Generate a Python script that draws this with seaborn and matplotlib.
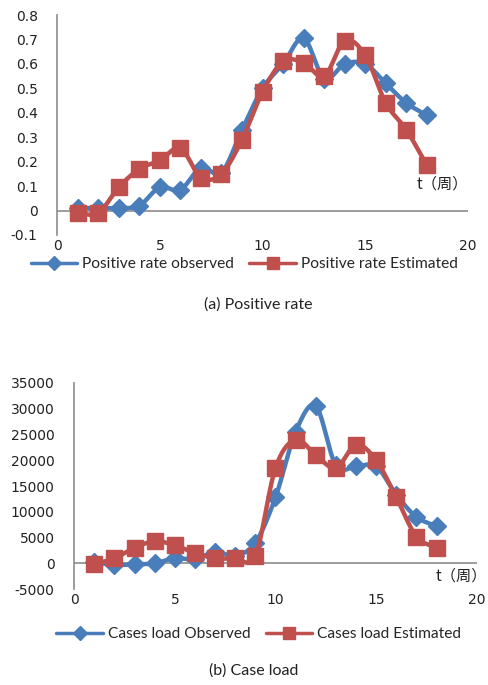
import numpy as np
import pandas as pd
import matplotlib
matplotlib.use("Agg")
import matplotlib.pyplot as plt
from matplotlib.lines import Line2D
import seaborn as sns

weeks = list(range(1, 19))
pos_observed = [0.01, 0.01, 0.01, 0.02, 0.095, 0.085, 0.175, 0.155, 0.33, 0.50,
                0.60, 0.705, 0.54, 0.60, 0.60, 0.52, 0.44, 0.39]
pos_estimated = [-0.01, -0.01, 0.095, 0.17, 0.205, 0.255, 0.135, 0.15, 0.29, 0.485,
                 0.61, 0.605, 0.55, 0.695, 0.635, 0.44, 0.33, 0.185]
case_observed = [200, -300, -200, 0, 1000, 800, 2200, 1500, 4000, 12800,
                 25500, 30500, 19000, 18800, 18800, 13300, 9000, 7200]
case_estimated = [-200, 1000, 3000, 4300, 3500, 2000, 1000, 1000, 1500, 18500,
                  24000, 21000, 18500, 23000, 20000, 12800, 5200, 3000]

pos_labels = ["Positive rate observed", "Positive rate Estimated"]
case_labels = ["Cases load Observed", "Cases load Estimated"]
captions = ["(a) Positive rate", "(b) Case load"]
x_ticks = [0, 5, 10, 15, 20]
pos_yticks = [-0.1, 0, 0.1, 0.2, 0.3, 0.4, 0.5, 0.6, 0.7, 0.8]
case_yticks = list(range(-5000, 35001, 5000))

BLUE = "#4A7EBB"
RED = "#C0504D"
GRAY = "#8C8C8C"

sns.set_theme(style="white")
plt.rcParams["font.family"] = ["DejaVu Sans", "Noto Sans CJK SC"]


def smooth(x, y, n=20):
    # Catmull-Rom style smoothing similar to spreadsheet "smoothed line"
    x = np.asarray(x, float)
    y = np.asarray(y, float)
    px = np.concatenate([[2 * x[0] - x[1]], x, [2 * x[-1] - x[-2]]])
    py = np.concatenate([[2 * y[0] - y[1]], y, [2 * y[-1] - y[-2]]])
    xs, ys = [], []
    t = np.linspace(0, 1, n, endpoint=False)
    for i in range(1, len(px) - 2):
        p0, p1, p2, p3 = (np.array([px[j], py[j]]) for j in range(i - 1, i + 3))
        for tt in t:
            pt = 0.5 * ((2 * p1) + (-p0 + p2) * tt + (2 * p0 - 5 * p1 + 4 * p2 - p3) * tt ** 2
                        + (-p0 + 3 * p1 - 3 * p2 + p3) * tt ** 3)
            xs.append(pt[0]); ys.append(pt[1])
    xs.append(x[-1]); ys.append(y[-1])
    return np.array(xs), np.array(ys)


fig = plt.figure(figsize=(4.88, 6.85), dpi=100)
ax1 = fig.add_axes([0.117, 0.657, 0.842, 0.321])
ax2 = fig.add_axes([0.152, 0.140, 0.825, 0.301])


def draw(ax, obs, est, ylim, yticks, labels, caption, tlabel_pos, leg_y, cap_x, cap_y, leg_x):
    for vals, col, mk, ms in [(obs, BLUE, "D", 9.5), (est, RED, "s", 11)]:
        sx, sy = smooth(weeks, vals)
        sns.lineplot(x=sx, y=sy, ax=ax, color=col, lw=3.2, sort=False, estimator=None)
        ax.plot(weeks, vals, ls="none", marker=mk, ms=ms, color=col, mec=col)
    ax.set_xlim(0, 20)
    ax.set_ylim(*ylim)
    ax.set_xticks(x_ticks)
    ax.set_yticks(yticks)
    ax.set_yticklabels([("%g" % v) for v in yticks], fontsize=10, color="#222222")
    ax.set_xticklabels([str(v) for v in x_ticks], fontsize=10, color="#222222")
    ax.tick_params(axis="y", length=0, pad=14)
    ax.tick_params(axis="x", length=0, pad=3)
    for s in ["top", "right", "bottom"]:
        ax.spines[s].set_visible(False)
    ax.spines["left"].set_color(GRAY)
    ax.spines["left"].set_linewidth(1.2)
    ax.axhline(0, color=GRAY, lw=1.2, zorder=0)
    ax.set_xlabel(""); ax.set_ylabel("")
    ax.text(tlabel_pos[0], tlabel_pos[1], "t（周）", fontsize=11,
            family=["Noto Sans CJK SC", "DejaVu Sans"], color="#222222",
            ha="left", va="center")
    handles = [Line2D([], [], color=BLUE, lw=2.5, marker="D", ms=7),
               Line2D([], [], color=RED, lw=2.5, marker="s", ms=8)]
    fig.legend(handles, labels, loc="center", bbox_to_anchor=(leg_x, leg_y), ncol=2,
               frameon=False, prop={"family": "Lato", "size": 11.2},
               handlelength=3.0, columnspacing=1.0, handletextpad=0.3)
    fig.text(cap_x, cap_y, caption,
             ha="center", va="center", fontsize=11.5, family="Lato", color="#222222")


draw(ax1, pos_observed, pos_estimated, (-0.1, 0.8), pos_yticks, pos_labels, captions[0],
     (17.5, 0.11), 1 - 264 / 685, 258 / 488, 1 - 305 / 685, 0.5)
draw(ax2, case_observed, case_estimated, (-5000, 35000), case_yticks, case_labels, captions[1],
     (17.95, -2500), 1 - 634 / 685, 254 / 488, 1 - 671 / 685, 0.53)

fig.savefig("out.png", dpi=100)
